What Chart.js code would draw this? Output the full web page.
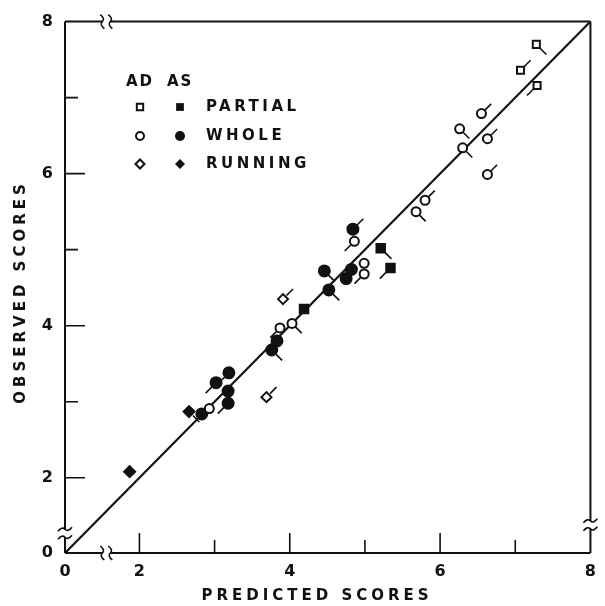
<!DOCTYPE html>
<html>
<head>
<meta charset="utf-8">
<script src="https://cdn.jsdelivr.net/npm/chart.js@4.4.0/dist/chart.umd.min.js"></script>
<style>
    html, body { margin: 0; padding: 0; background: #fff; }
    #wrap { width: 605px; height: 606px; position: relative; }
</style>
</head>
<body>
<div id="wrap"><canvas id="chart"></canvas></div>
<script>
// Оси: между 0 и 2 ось разорвана, угол графика подписан "0"
const axisMin = 1.01;
const axisMax = 8;
const tickValues = [2, 4, 6, 8];
const minorTickValues = [3, 5, 7];

// AD - светлые значки, AS - тёмные. x - predicted, y - observed
const adPartialX = [7.28, 7.07, 7.29];
const adPartialY = [7.70, 7.36, 7.16];
const adPartialTail = ['dr', 'ur', 'dl'];

const asPartialX = [5.21, 5.34, 4.19];
const asPartialY = [5.02, 4.76, 4.22];
const asPartialTail = ['dr', 'dl', ''];

const adWholeX = [6.55, 6.26, 6.30, 6.63, 6.63, 5.80, 5.68, 4.86, 4.99, 4.99, 4.03, 3.87, 2.93];
const adWholeY = [6.79, 6.59, 6.34, 6.46, 5.99, 5.65, 5.50, 5.11, 4.82, 4.68, 4.03, 3.97, 2.91];
const adWholeTail = ['ur', 'dr', 'dr', 'ur', 'ur', 'ur', 'dr', 'dl', '', 'dl', 'dr', 'dl', ''];

const asWholeX = [4.84, 4.46, 4.82, 4.75, 4.52, 3.83, 3.76, 3.02, 3.19, 3.18, 3.18, 2.83];
const asWholeY = [5.27, 4.72, 4.74, 4.62, 4.47, 3.80, 3.68, 3.25, 3.38, 3.14, 2.98, 2.84];
const asWholeTail = ['ur', 'dr', '', '', 'dr', '', 'dr', 'dl', 'dl', '', 'dl', ''];

const adRunningX = [3.91, 3.69];
const adRunningY = [4.35, 3.06];
const adRunningTail = ['ur', 'ur'];

const asRunningX = [2.66, 1.87];
const asRunningY = [2.87, 2.08];
const asRunningTail = ['dr', ''];

const legendRows = ['PARTIAL', 'WHOLE', 'RUNNING'];

const toPoints = (xs, ys) => xs.map((x, i) => ({x: x, y: ys[i]}));

const ink = '#111';
const labelFont = 'bold 15px "DejaVu Sans"';

const series = [
    {label: 'AD PARTIAL', data: toPoints(adPartialX, adPartialY), tails: adPartialTail, pointStyle: 'rect', pointRadius: 5, pointBackgroundColor: '#fff'},
    {label: 'AS PARTIAL', data: toPoints(asPartialX, asPartialY), tails: asPartialTail, pointStyle: 'rect', pointRadius: 6, pointBackgroundColor: ink},
    {label: 'AD WHOLE', data: toPoints(adWholeX, adWholeY), tails: adWholeTail, pointStyle: 'circle', pointRadius: 4.5, pointBackgroundColor: '#fff'},
    {label: 'AS WHOLE', data: toPoints(asWholeX, asWholeY), tails: asWholeTail, pointStyle: 'circle', pointRadius: 5.5, pointBackgroundColor: ink},
    {label: 'AD RUNNING', data: toPoints(adRunningX, adRunningY), tails: adRunningTail, pointStyle: 'rectRot', pointRadius: 5, pointBackgroundColor: '#fff'},
    {label: 'AS RUNNING', data: toPoints(asRunningX, asRunningY), tails: asRunningTail, pointStyle: 'rectRot', pointRadius: 5.5, pointBackgroundColor: ink}
];

const datasets = series.map(s => ({
    label: s.label,
    data: s.data,
    tails: s.tails,
    pointStyle: s.pointStyle,
    pointRadius: s.pointRadius,
    pointHoverRadius: s.pointRadius,
    pointBackgroundColor: s.pointBackgroundColor,
    pointBorderColor: ink,
    pointBorderWidth: 2,
    showLine: false
}));

// Линия y = x
datasets.push({
    label: 'y = x',
    data: [{x: axisMin, y: axisMin}, {x: axisMax, y: axisMax}],
    showLine: true,
    borderColor: ink,
    borderWidth: 2.2,
    pointRadius: 0,
    order: 10
});

// Рамка с разрывами и засечками внутрь
const framePlugin = {
    id: 'frame',
    beforeDatasetsDraw(chart) {
        const {ctx, chartArea: a, scales} = chart;
        const xs = scales.x, ys = scales.y;
        const xBreak = xs.getPixelForValue(1.56);
        const yBreak = ys.getPixelForValue(1.27);
        const yBreakRight = ys.getPixelForValue(1.38);
        const gap = 4;

        ctx.save();
        ctx.strokeStyle = ink;
        ctx.lineWidth = 2;
        ctx.lineCap = 'butt';
        ctx.beginPath();
        // низ
        ctx.moveTo(a.left, a.bottom); ctx.lineTo(xBreak - gap, a.bottom);
        ctx.moveTo(xBreak + gap, a.bottom); ctx.lineTo(a.right, a.bottom);
        // верх
        ctx.moveTo(a.left, a.top); ctx.lineTo(xBreak - gap, a.top);
        ctx.moveTo(xBreak + gap, a.top); ctx.lineTo(a.right, a.top);
        // лево
        ctx.moveTo(a.left, a.top); ctx.lineTo(a.left, yBreak - gap);
        ctx.moveTo(a.left, yBreak + gap); ctx.lineTo(a.left, a.bottom);
        // право
        ctx.moveTo(a.right, a.top); ctx.lineTo(a.right, yBreakRight - gap);
        ctx.moveTo(a.right, yBreakRight + gap); ctx.lineTo(a.right, a.bottom);
        ctx.stroke();

        // значки разрыва
        ctx.lineWidth = 1.6;
        const vMark = (x, y) => {
            ctx.beginPath();
            ctx.moveTo(x - 2, y - 7);
            ctx.quadraticCurveTo(x + 3, y - 3, x, y);
            ctx.quadraticCurveTo(x - 3, y + 3, x + 2, y + 7);
            ctx.stroke();
        };
        const hMark = (x, y) => {
            ctx.beginPath();
            ctx.moveTo(x - 7, y + 2);
            ctx.quadraticCurveTo(x - 3, y - 3, x, y);
            ctx.quadraticCurveTo(x + 3, y + 3, x + 7, y - 2);
            ctx.stroke();
        };
        vMark(xBreak - gap, a.bottom); vMark(xBreak + gap, a.bottom);
        vMark(xBreak - gap, a.top); vMark(xBreak + gap, a.top);
        hMark(a.left, yBreak - gap); hMark(a.left, yBreak + gap);
        hMark(a.right, yBreakRight - gap); hMark(a.right, yBreakRight + gap);

        // засечки
        ctx.lineWidth = 1.6;
        ctx.beginPath();
        tickValues.concat(minorTickValues).forEach(v => {
            const len = tickValues.includes(v) ? 20 : 13;
            if (v < axisMax) {
                const px = xs.getPixelForValue(v);
                ctx.moveTo(px, a.bottom); ctx.lineTo(px, a.bottom - len);
                const py = ys.getPixelForValue(v);
                ctx.moveTo(a.left, py); ctx.lineTo(a.left + len, py);
            }
        });
        ctx.stroke();
        ctx.restore();
    },
    afterDatasetsDraw(chart) {
        // хвостики у значков
        const {ctx} = chart;
        const dirs = {ur: [1, -1], dr: [1, 1], dl: [-1, 1], ul: [-1, -1]};
        ctx.save();
        ctx.strokeStyle = ink;
        ctx.lineWidth = 1.6;
        chart.data.datasets.forEach((ds, di) => {
            if (!ds.tails) return;
            const meta = chart.getDatasetMeta(di);
            meta.data.forEach((pt, i) => {
                const d = dirs[ds.tails[i]];
                if (!d) return;
                const r = ds.pointRadius;
                const k = Math.SQRT1_2;
                ctx.beginPath();
                ctx.moveTo(pt.x + d[0] * r * k, pt.y + d[1] * r * k);
                ctx.lineTo(pt.x + d[0] * (r * k + 6.5), pt.y + d[1] * (r * k + 6.5));
                ctx.stroke();
            });
        });
        ctx.restore();
    },
    afterDraw(chart) {
        const {ctx} = chart;
        ctx.save();
        ctx.fillStyle = ink;
        ctx.textBaseline = 'middle';

        // подписи осей
        ctx.font = labelFont;
        ctx.letterSpacing = '4px';
        ctx.textAlign = 'center';
        ctx.fillText('PREDICTED SCORES', 317, 596);
        ctx.save();
        ctx.translate(21, 292);
        ctx.rotate(-Math.PI / 2);
        ctx.fillText('OBSERVED SCORES', 0, 0);
        ctx.restore();

        // легенда
        ctx.textAlign = 'left';
        ctx.letterSpacing = '2px';
        ctx.fillText('AD', 126, 82);
        ctx.fillText('AS', 167, 82);
        ctx.letterSpacing = '3.5px';
        const rowY = [107, 136, 164];
        const styles = [0, 2, 4];
        legendRows.forEach((name, i) => {
            const open = datasets[styles[i]];
            const full = datasets[styles[i] + 1];
            ctx.fillStyle = '#fff'; ctx.strokeStyle = ink; ctx.lineWidth = 2;
            Chart.helpers.drawPoint(ctx, {pointStyle: open.pointStyle, radius: open.pointRadius - 0.5, borderWidth: 2}, 140, rowY[i]);
            ctx.fillStyle = ink;
            Chart.helpers.drawPoint(ctx, {pointStyle: full.pointStyle, radius: full.pointRadius - 0.5, borderWidth: 0}, 180, rowY[i]);
            ctx.fillText(name, 206, rowY[i]);
        });
        ctx.restore();
    }
};

new Chart(document.getElementById('chart'), {
    type: 'scatter',
    data: {datasets: datasets},
    plugins: [framePlugin],
    options: {
        responsive: true,
        maintainAspectRatio: false,
        animation: false,
        layout: {padding: {left: 8, right: 7, top: 20, bottom: 0}},
        plugins: {
            legend: {display: false},
            tooltip: {enabled: false}
        },
        scales: {
            x: {
                type: 'linear',
                min: axisMin,
                max: axisMax,
                grid: {display: false, drawTicks: false},
                border: {display: false},
                afterFit: (scale) => { scale.height = 53; },
                afterBuildTicks: (scale) => { scale.ticks = [axisMin].concat(tickValues).map(v => ({value: v})); },
                ticks: {
                    autoSkip: false,
                    maxRotation: 0,
                    padding: 9,
                    color: ink,
                    font: {family: 'DejaVu Sans', size: 16, weight: 'bold'},
                    callback: (v) => v === axisMin ? '0' : String(v)
                }
            },
            y: {
                type: 'linear',
                min: axisMin,
                max: axisMax,
                grid: {display: false, drawTicks: false},
                border: {display: false},
                afterFit: (scale) => { scale.width = 57; },
                afterBuildTicks: (scale) => { scale.ticks = [axisMin].concat(tickValues).map(v => ({value: v})); },
                ticks: {
                    autoSkip: false,
                    padding: 12,
                    color: ink,
                    font: {family: 'DejaVu Sans', size: 16, weight: 'bold'},
                    callback: (v) => v === axisMin ? '0' : String(v)
                }
            }
        }
    }
});
</script>
</body>
</html>
